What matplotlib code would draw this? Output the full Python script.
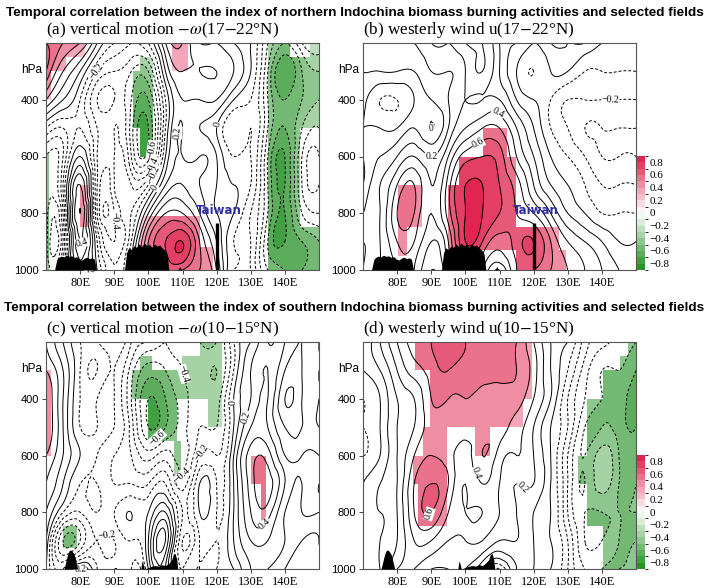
"""
Vier Laengen-Hoehen-Schnitte: Korrelation zwischen Biomassenverbrennungs-Index
und -omega bzw. u, mit signifikanten Kaestchen farbig hinterlegt.
Schreibt out.png.
"""

import numpy as np
import matplotlib
matplotlib.use("Agg")
import matplotlib.pyplot as plt
from matplotlib import font_manager
from matplotlib.colors import BoundaryNorm, LinearSegmentedColormap
from matplotlib.cm import ScalarMappable
from matplotlib.path import Path
from matplotlib.patches import PathPatch
from matplotlib.tri import Triangulation, UniformTriRefiner

# ---------------------------------------------------------------- data ----
LON = [70, 75, 80, 85, 90, 95, 100, 105, 110, 115, 120, 125, 130, 135, 140, 145, 150]
PLEV = [1000, 900, 800, 700, 600, 500, 400, 300, 200]

# one row per longitude (LON order), values at PLEV (1000 -> 200 hPa)
OMEGA_NORTH = [
    [-0.4, -0.45, -0.45, -0.45, -0.4, -0.1, 0.3, 0.6, 0.6],
    [-0.3, -0.4, -0.3, -0.2, -0.3, -0.2, 0.1, 0.3, 0.5],
    [0.3, 0.4, 0.5, 0.4, 0.1, -0.1, -0.1, 0.1, 0.4],
    [0.0, -0.1, -0.3, -0.3, -0.3, -0.3, -0.4, -0.2, 0.1],
    [-0.3, -0.4, -0.4, -0.3, -0.3, -0.3, -0.4, -0.3, -0.1],
    [0.0, -0.1, -0.2, -0.3, -0.5, -0.55, -0.5, -0.4, -0.2],
    [0.4, 0.5, 0.2, -0.2, -0.65, -0.7, -0.6, -0.4, -0.1],
    [0.6, 0.7, 0.5, 0.2, 0.0, -0.1, -0.1, 0.1, 0.3],
    [0.6, 0.8, 0.5, 0.3, 0.2, 0.2, 0.2, 0.3, 0.4],
    [0.5, 0.5, 0.3, 0.2, 0.2, 0.1, 0.2, 0.3, 0.2],
    [0.3, 0.2, 0.1, 0.1, 0.1, 0.0, 0.2, 0.3, 0.2],
    [-0.1, -0.1, 0.0, 0.0, -0.1, -0.2, 0.0, 0.2, 0.1],
    [-0.2, -0.2, -0.2, -0.1, -0.1, -0.1, -0.1, 0.0, 0.0],
    [-0.5, -0.6, -0.5, -0.5, -0.5, -0.4, -0.4, -0.4, -0.3],
    [-0.6, -0.7, -0.7, -0.7, -0.7, -0.6, -0.6, -0.7, -0.5],
    [-0.6, -0.6, -0.4, -0.3, -0.3, -0.4, -0.5, -0.5, -0.3],
    [-0.5, -0.5, -0.3, -0.2, -0.2, -0.3, -0.4, -0.4, -0.2],
]
U_NORTH = [
    [0.1, 0.1, 0.1, 0.0, 0.0, 0.0, 0.05, 0.1, 0.2],
    [0.2, 0.2, 0.2, 0.2, 0.1, 0.0, -0.1, 0.1, 0.2],
    [0.3, 0.4, 0.5, 0.4, 0.2, 0.0, -0.1, 0.1, 0.2],
    [0.3, 0.4, 0.5, 0.5, 0.3, 0.1, 0.0, 0.1, 0.2],
    [0.1, 0.2, 0.3, 0.3, 0.2, 0.0, 0.1, 0.2, 0.3],
    [0.3, 0.4, 0.55, 0.55, 0.4, 0.2, 0.2, 0.2, 0.3],
    [0.6, 0.8, 0.8, 0.8, 0.65, 0.4, 0.3, 0.3, 0.4],
    [0.5, 0.7, 0.8, 0.8, 0.7, 0.5, 0.3, 0.4, 0.4],
    [0.3, 0.55, 0.7, 0.7, 0.65, 0.5, 0.3, 0.2, 0.2],
    [0.6, 0.65, 0.6, 0.55, 0.4, 0.3, 0.1, 0.0, 0.1],
    [0.6, 0.7, 0.5, 0.3, 0.2, 0.1, 0.0, -0.1, 0.0],
    [0.5, 0.5, 0.3, 0.1, 0.0, -0.1, -0.1, 0.0, 0.1],
    [0.4, 0.3, 0.1, 0.0, -0.1, -0.2, -0.2, 0.0, 0.1],
    [0.3, 0.2, 0.0, -0.1, -0.2, -0.3, -0.2, -0.1, 0.1],
    [0.2, 0.1, -0.1, -0.2, -0.3, -0.3, -0.2, -0.1, 0.0],
    [0.1, 0.0, -0.1, -0.2, -0.3, -0.3, -0.2, -0.1, 0.0],
    [0.0, 0.0, -0.1, -0.2, -0.3, -0.3, -0.2, -0.1, 0.0],
]
OMEGA_SOUTH = [
    [0.0, 0.1, 0.2, 0.3, 0.4, 0.5, 0.5, 0.4, 0.3],
    [-0.2, -0.5, -0.1, 0.1, 0.2, 0.2, 0.2, 0.2, 0.1],
    [0.2, -0.4, -0.2, -0.1, 0.0, -0.1, -0.1, -0.1, -0.1],
    [-0.1, -0.2, -0.1, -0.1, -0.1, -0.1, -0.1, -0.2, -0.1],
    [-0.1, -0.2, -0.1, -0.2, -0.2, -0.1, -0.1, -0.1, 0.0],
    [-0.2, -0.1, 0.0, -0.2, -0.3, -0.35, -0.4, -0.35, -0.2],
    [0.0, 0.1, 0.0, -0.2, -0.45, -0.7, -0.7, -0.55, -0.3],
    [0.2, 0.4, 0.2, -0.1, -0.35, -0.6, -0.6, -0.5, -0.4],
    [-0.2, -0.3, -0.2, -0.35, -0.45, -0.45, -0.45, -0.4, -0.3],
    [-0.1, -0.1, 0.0, 0.0, -0.2, -0.3, -0.35, -0.35, -0.4],
    [-0.1, -0.1, -0.1, -0.1, -0.2, -0.3, -0.35, -0.4, -0.4],
    [0.0, 0.1, 0.1, 0.1, 0.1, 0.0, 0.0, -0.1, -0.1],
    [0.2, 0.3, 0.4, 0.45, 0.45, 0.3, 0.2, 0.2, 0.1],
    [0.2, 0.3, 0.45, 0.55, 0.45, 0.3, 0.3, 0.3, 0.3],
    [0.1, 0.2, 0.2, 0.3, 0.2, 0.1, 0.0, 0.1, 0.2],
    [0.0, 0.1, 0.2, 0.2, 0.2, 0.1, 0.1, 0.1, 0.1],
    [0.1, 0.1, 0.2, 0.3, 0.2, 0.1, 0.1, 0.1, 0.1],
]
U_SOUTH = [
    [0.0, 0.0, 0.0, 0.0, -0.1, -0.1, -0.1, 0.0, 0.0],
    [0.1, 0.1, 0.1, 0.1, 0.0, 0.0, 0.0, 0.1, 0.2],
    [0.3, 0.2, 0.2, 0.2, 0.2, 0.2, 0.2, 0.3, 0.4],
    [0.3, 0.4, 0.5, 0.5, 0.4, 0.3, 0.3, 0.45, 0.55],
    [0.2, 0.4, 0.6, 0.6, 0.5, 0.45, 0.5, 0.55, 0.6],
    [0.2, 0.3, 0.4, 0.5, 0.45, 0.45, 0.5, 0.6, 0.7],
    [0.2, 0.3, 0.3, 0.3, 0.35, 0.45, 0.5, 0.55, 0.6],
    [0.0, 0.3, 0.3, 0.4, 0.5, 0.45, 0.45, 0.55, 0.6],
    [-0.2, 0.2, 0.3, 0.3, 0.35, 0.45, 0.45, 0.55, 0.55],
    [0.1, 0.2, 0.2, 0.2, 0.3, 0.35, 0.45, 0.5, 0.5],
    [0.1, 0.1, 0.1, 0.2, 0.2, 0.2, 0.3, 0.35, 0.3],
    [0.0, 0.0, 0.0, 0.0, 0.0, 0.0, 0.1, 0.1, 0.1],
    [-0.2, -0.2, -0.3, -0.3, -0.3, -0.2, -0.2, -0.1, 0.0],
    [-0.4, -0.5, -0.5, -0.5, -0.5, -0.5, -0.4, -0.35, -0.25],
    [-0.5, -0.5, -0.5, -0.35, -0.35, -0.5, -0.5, -0.5, -0.35],
    [-0.5, -0.5, -0.5, -0.5, -0.5, -0.55, -0.55, -0.5, -0.45],
    [-0.5, -0.5, -0.5, -0.5, -0.55, -0.6, -0.65, -0.6, -0.5],
]

# significant boxes: (lon west, lon east, p top, p bottom)
SIG_A = [
    (70, 81.5, 200, 250), (70, 76, 250, 300), (70, 71.5, 300, 400),
    (80, 84, 700, 850), (107, 111.5, 200, 300),
    (97.5, 115, 810, 1000), (115, 119, 920, 1000),
    (70, 71, 590, 1000), (97.5, 101.5, 250, 600), (95.5, 97.5, 300, 500),
    (135, 141.5, 200, 250), (147.5, 150, 200, 250), (135, 144.5, 250, 1000),
    (144.5, 150, 250, 500), (144.5, 150, 850, 1000),
]
SIG_B = [
    (80.3, 87.3, 700, 850), (80.3, 83, 850, 950),
    (105.2, 112.2, 500, 600), (98, 114.7, 600, 700),
    (95, 105, 700, 1000), (105, 114.7, 700, 930),
    (114.7, 127.3, 850, 930), (114.7, 129.6, 930, 1000),
]
SIG_C = [
    (70, 71.5, 300, 600), (130, 134.6, 600, 700), (133, 134.6, 700, 840),
    (75, 79, 850, 925),
    (97.6, 101, 250, 300), (109.8, 115, 250, 300), (115, 121.7, 200, 300),
    (95.2, 121.7, 300, 400), (100, 108.4, 400, 550), (117.6, 121.7, 400, 500),
    (107.5, 109.5, 550, 700),
]
SIG_D = [
    (85.3, 119.6, 200, 300), (89.6, 119.6, 300, 400), (89.6, 116.9, 400, 500),
    (87.6, 94.6, 500, 850), (84.6, 87.6, 600, 700), (86, 87.6, 700, 850),
    (102.8, 107.3, 500, 600),
    (147.7, 150, 200, 1000), (145.4, 147.7, 250, 1000),
    (140.4, 145.4, 300, 1000), (135.7, 140.4, 400, 850), (133, 135.7, 600, 700),
]

# terrain (surface pressure along the band)
TERRAIN_N_LON = [72.5, 73.2, 73.8, 74.5, 75.2, 76.0, 76.8, 77.5, 78.3, 79.0, 79.8,
                 80.5, 81.3, 82.0, 82.8, 83.5, 84.2, 84.8, 93.0, 93.6, 94.2, 95.0,
                 95.8, 96.5, 97.3, 98.0, 98.8, 99.5, 100.3, 101.0, 101.8, 102.5,
                 103.3, 104.0, 104.8, 105.5, 106.0, 108.6, 109.2, 109.8]
TERRAIN_N_PS = [1000, 962, 955, 951, 954, 948, 952, 950, 956, 953, 962,
                965, 958, 955, 960, 957, 962, 1000, 1000, 940, 922, 928,
                915, 920, 908, 918, 905, 914, 910, 920, 908, 916,
                912, 922, 930, 945, 1000, 1000, 988, 1000]
TERRAIN_S_LON = [75.3, 75.8, 76.3, 76.8, 77.3, 77.8, 78.3, 78.8, 79.3, 97.8, 98.1,
                 98.4, 98.8, 100.0, 101.0, 102.0, 103.0, 104.0, 105.0, 106.0,
                 106.8, 107.3, 107.8, 108.3, 108.6]
TERRAIN_S_PS = [1000, 975, 950, 935, 933, 940, 950, 975, 1000, 1000, 972,
                980, 1000, 995, 990, 988, 990, 985, 988, 980,
                968, 950, 945, 965, 1000]

# contour labels: (value, lon, p)
LABELS_A = [(-0.2, 85, 295), (-0.6, 100, 570), (-0.4, 100.5, 625), (-0.2, 101, 665),
            (0.0, 101, 705), (0.2, 108, 517), (0.0, 120, 489), (-0.4, 90, 827),
            (0.4, 82, 950), (0.2, 83, 985)]
LABELS_B = [(0.4, 109, 460), (0.6, 104, 560), (0.0, 90, 530), (-0.2, 142.5, 435),
            (0.2, 90, 623)]
LABELS_C = [(-0.4, 105, 330), (-0.6, 102.5, 533), (-0.2, 115, 582), (-0.4, 110, 680),
            (-0.2, 88, 890), (0.2, 80, 960), (0.4, 134.6, 850), (0.0, 125, 412),
            (0.2, 129, 470)]
LABELS_D = [(0.4, 105, 657), (0.2, 118, 703), (0.6, 92.6, 866)]

TITLE_N = ("Temporal correlation between the index of northern Indochina "
           "biomass burning activities and selected fields")
TITLE_S = ("Temporal correlation between the index of southern Indochina "
           "biomass burning activities and selected fields")
PANEL_TITLES = [r"(a) vertical motion $-\omega$(17$-$22°N)",
                r"(b) westerly wind u(17$-$22°N)",
                r"(c) vertical motion $-\omega$(10$-$15°N)",
                r"(d) westerly wind u(10$-$15°N)"]

SHADE_LEVELS = np.round(np.arange(-9, 10) * 0.1, 1)
LINE_LEVELS = np.round(np.arange(-8, 9) * 0.1, 1)
CBAR_TICKS = [-0.8, -0.6, -0.4, -0.2, 0, 0.2, 0.4, 0.6, 0.8]
PSCALE = 20.0   # 100 hPa ~ 5 deg for the smooth interpolation


def pick_font(names):
    for n in names:
        try:
            font_manager.findfont(font_manager.FontProperties(family=n),
                                  fallback_to_default=False)
            return n
        except ValueError:
            continue
    return "DejaVu Sans"


def fmt_val(v):
    if abs(v) < 1e-9:
        return "0"
    return f"{v:.1f}".replace("-", "\u2212")


def smooth_field(cols):
    """Gitter -> Dreiecksnetz, kubisch verfeinert (matplotlib.tri)."""
    z = np.array(cols, dtype=float).T          # (nplev, nlon)
    ny, nx = z.shape
    lon2, p2 = np.meshgrid(LON, PLEV)
    tris = []
    for j in range(ny - 1):
        for i in range(nx - 1):
            a = j * nx + i
            tris.append([a, a + 1, a + nx + 1])
            tris.append([a, a + nx + 1, a + nx])
    tri = Triangulation(lon2.ravel(), p2.ravel() / PSCALE, np.array(tris))
    ref, zr = UniformTriRefiner(tri).refine_field(z.ravel(), subdiv=3)
    return Triangulation(ref.x, ref.y * PSCALE, ref.triangles), zr


def sig_patch(ax, boxes):
    verts, codes = [], []
    for lon0, lon1, ptop, pbot in boxes:
        verts += [(lon0, pbot), (lon1, pbot), (lon1, ptop), (lon0, ptop), (lon0, pbot)]
        codes += [Path.MOVETO, Path.LINETO, Path.LINETO, Path.LINETO, Path.CLOSEPOLY]
    return PathPatch(Path(verts, codes), transform=ax.transData,
                     facecolor="none", edgecolor="none")


def label_contour(ax, cs, val, x, y):
    """Beschriftet die Isolinie `val` am Punkt, der (x, y) am naechsten liegt."""
    i = int(np.argmin(np.abs(cs.levels - val)))
    verts = cs.get_paths()[i].vertices
    if len(verts) < 3:
        return
    pts = ax.transData.transform(verts)
    tgt = ax.transData.transform((x, y))
    j = int(np.argmin(np.hypot(*(pts - tgt).T)))
    j0, j1 = max(j - 2, 0), min(j + 2, len(pts) - 1)
    dx, dy = pts[j1] - pts[j0]
    ang = np.degrees(np.arctan2(dy, dx))
    if ang > 90:
        ang -= 180
    elif ang < -90:
        ang += 180
    ax.text(verts[j][0], verts[j][1], fmt_val(cs.levels[i]), rotation=ang,
            rotation_mode="anchor", ha="center", va="center", fontsize=7,
            family="Liberation Serif", zorder=3,
            bbox=dict(facecolor="white", edgecolor="none", pad=0.3))


def draw_panel(ax, cols, boxes, t_lon, t_ps, labels, cmap, norm, taiwan):
    ax.set_xlim(70, 150)
    ax.set_ylim(1000, 200)
    tri, zr = smooth_field(cols)
    cf = ax.tricontourf(tri, zr, levels=SHADE_LEVELS, cmap=cmap, norm=norm,
                        extend="both", zorder=1)
    cf.set_clip_path(sig_patch(ax, boxes))

    styles = ["-" if lv >= 0 else (0, (3.0, 2.0)) for lv in LINE_LEVELS]
    cs = ax.tricontour(tri, zr, levels=LINE_LEVELS, colors="black",
                       linewidths=0.7, linestyles=styles, zorder=2)
    for val, x, y in labels:
        label_contour(ax, cs, val, x, y)

    ax.fill_between(t_lon, t_ps, 1000, color="black", lw=0, zorder=5)

    if taiwan:
        ax.plot([120, 120], [1000, 835], color="black", lw=2.4,
                solid_capstyle="butt", zorder=6)
        ax.text(120.6, 790, "Taiwan", color="#2E2EA6", ha="center", va="center",
                fontsize=8.5, fontweight="bold", family="DejaVu Sans", zorder=7)

    ax.set_xlim(70, 150)
    ax.set_ylim(1000, 200)
    ax.set_xticks([80, 90, 100, 110, 120, 130, 140])
    ax.set_xticklabels([f"{v}E" for v in range(80, 150, 10)],
                       family="Liberation Serif", fontsize=9)
    ax.set_yticks([1000, 800, 600, 400])
    ax.set_yticklabels(["1000", "800", "600", "400"],
                       family="Liberation Sans", fontsize=8)
    ax.tick_params(direction="out", length=3, width=0.7, colors="#444444",
                   labelcolor="black", pad=2)
    for sp in ax.spines.values():
        sp.set_color("#555555")
        sp.set_linewidth(0.8)
    ax.text(-0.015, 295, "hPa", transform=ax.get_yaxis_transform(),
            ha="right", va="center", family="Liberation Sans", fontsize=8.5)


def main():
    plt.rcParams.update({
        "mathtext.fontset": "stix",
        "figure.facecolor": "white",
    })
    fig = plt.figure(figsize=(7.09, 5.88), dpi=100)

    cmap = LinearSegmentedColormap.from_list(
        "gwr", ["#108810", "#ffffff", "#dc0a3a"], N=256)
    norm = BoundaryNorm(SHADE_LEVELS, cmap.N, extend="both")

    left_x, right_x, w = 46 / 709, 363 / 709, 273 / 709
    top_y, bot_y, h = 1 - 270 / 588, 1 - 569 / 588, 227 / 588
    panels = [
        (left_x, top_y, OMEGA_NORTH, SIG_A, TERRAIN_N_LON, TERRAIN_N_PS, LABELS_A, True),
        (right_x, top_y, U_NORTH, SIG_B, TERRAIN_N_LON, TERRAIN_N_PS, LABELS_B, True),
        (left_x, bot_y, OMEGA_SOUTH, SIG_C, TERRAIN_S_LON, TERRAIN_S_PS, LABELS_C, False),
        (right_x, bot_y, U_SOUTH, SIG_D, TERRAIN_S_LON, TERRAIN_S_PS, LABELS_D, False),
    ]
    for i, (x0, y0, cols, boxes, tl, tp, labs, tw) in enumerate(panels):
        ax = fig.add_axes([x0, y0, w, h])
        draw_panel(ax, cols, boxes, tl, tp, labs, cmap, norm, tw)
        ax.text(0.0, 1.012, PANEL_TITLES[i], transform=ax.transAxes,
                ha="left", va="bottom", family="Liberation Serif", fontsize=12.3)

    # colour bars next to (b) and (d)
    for y0 in (top_y, bot_y):
        cax = fig.add_axes([637 / 709, y0, 8 / 709, 114 / 588])
        cb = fig.colorbar(ScalarMappable(norm=norm, cmap=cmap), cax=cax,
                          ticks=CBAR_TICKS, extend="neither")
        cb.outline.set_visible(False)
        cb.ax.set_ylim(-0.9, 0.9)
        cb.ax.set_yticklabels([fmt_val(v) for v in CBAR_TICKS],
                              family="Liberation Serif", fontsize=8)
        cb.ax.tick_params(length=0, pad=3)

    tfont = pick_font(["Liberation Sans Narrow", "DejaVu Sans Condensed",
                       "Liberation Sans"])
    tsize = {"Liberation Sans Narrow": 11.5,
             "DejaVu Sans Condensed": 9.0}.get(tfont, 9.7)
    fig.text(0.5, 1 - 13 / 588, TITLE_N, ha="center", va="center",
             family=tfont, fontweight="bold", fontsize=tsize)
    fig.text(0.5, 1 - 308 / 588, TITLE_S, ha="center", va="center",
             family=tfont, fontweight="bold", fontsize=tsize)

    fig.savefig("out.png", dpi=100)
    plt.close(fig)


if __name__ == "__main__":
    main()
